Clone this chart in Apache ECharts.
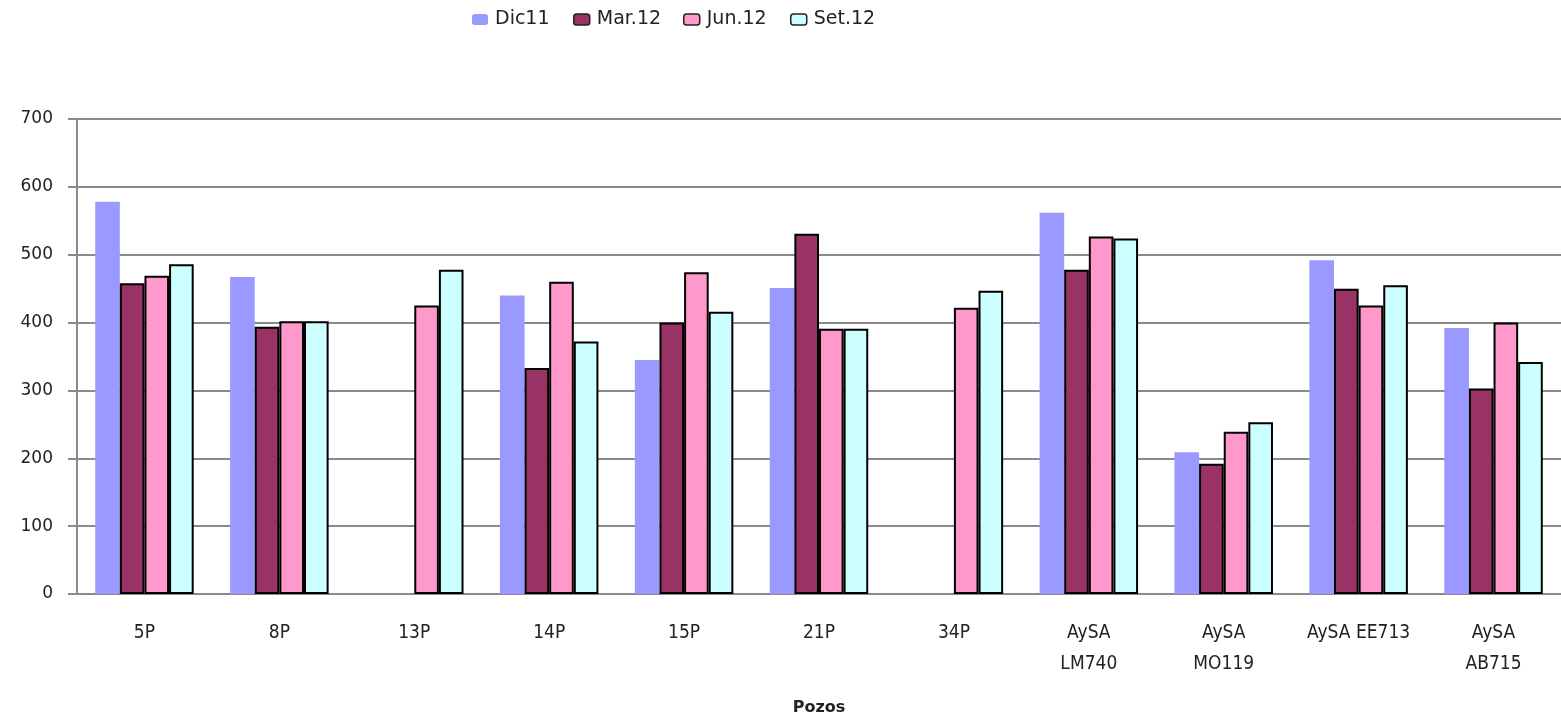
<!DOCTYPE html>
<html>
<head>
<meta charset="utf-8">
<script src="https://cdn.jsdelivr.net/npm/echarts@6/dist/echarts.min.js"></script>
<style>
  html, body { margin: 0; padding: 0; background: #fff; }
  #chart { width: 1561px; height: 719px; }
</style>
</head>
<body>
<div id="chart"></div>
<script>
// Wells (x categories)
const pozos = ['5P', '8P', '13P', '14P', '15P', '21P', '34P', 'AySA\nLM740', 'AySA\nMO119', 'AySA EE713', 'AySA\nAB715'];

// Measurement periods
const periodos = ['Dic11', 'Mar.12', 'Jun.12', 'Set.12'];

// Measurements per period (null = no reading)
const dic11 = [578, 467, null, 440, 345, 451, null, 562, 209, 492, 392];
const mar12 = [458, 394, null, 333, 400, 531, null, 478, 192, 450, 303];
const jun12 = [469, 402, 425, 460, 474, 391, 422, 527, 239, 425, 400];
const set12 = [486, 402, 478, 372, 416, 391, 447, 524, 253, 455, 342];

// Y axis range
const yMin = 0, yMax = 700, yStep = 100;

const fontFam = 'DejaVu Sans, Verdana, sans-serif';
const narrowFam = '"Liberation Sans Narrow", "Arial Narrow", "DejaVu Sans Condensed", sans-serif';

const colors = ['#9999FF', '#993366', '#FF99CC', '#CCFFFF'];
const bordered = [false, true, true, true];
const values = [dic11, mar12, jun12, set12];

// One legend block per period, laid out left to right across the top
const legendLeft = [472, 573, 683, 790];
const legends = periodos.map((p, i) => ({
  top: 10,
  left: legendLeft[i],
  itemWidth: 16,
  itemHeight: 11,
  padding: 0,
  textStyle: { fontFamily: fontFam, fontSize: 19, color: '#222', padding: [0, 0, 0, 2] },
  data: [{
    name: p,
    itemStyle: bordered[i] ? { borderColor: '#222', borderWidth: 1.5 } : { borderWidth: 0 }
  }]
}));

const series = periodos.map((p, i) => ({
  name: p,
  type: 'bar',
  data: values[i],
  barGap: '0%',
  barCategoryGap: '27%',
  itemStyle: {
    color: colors[i],
    borderColor: bordered[i] ? '#000' : colors[i],
    borderWidth: bordered[i] ? 2 : 0
  }
}));

const chart = echarts.init(document.getElementById('chart'), null, { renderer: 'canvas' });
chart.setOption({
  animation: false,
  backgroundColor: '#fff',
  legend: legends,
  grid: { left: 77, right: 0, top: 119, bottom: 125, containLabel: false, outerBoundsMode: 'none' },
  xAxis: {
    type: 'category',
    data: pozos,
    name: 'Pozos',
    nameLocation: 'middle',
    nameGap: 106,
    nameTextStyle: { fontFamily: fontFam, fontSize: 16, fontWeight: 'bold', color: '#222' },
    axisLine: { lineStyle: { color: '#8a8a8a', width: 2 } },
    axisTick: { show: false },
    axisLabel: {
      fontFamily: narrowFam, fontSize: 19, color: '#222',
      margin: 24, lineHeight: 31, interval: 0
    },
    splitLine: { show: false }
  },
  yAxis: {
    type: 'value',
    min: yMin, max: yMax, interval: yStep,
    axisLine: { show: true, lineStyle: { color: '#8a8a8a', width: 2 } },
    axisTick: { show: true, length: 9, lineStyle: { color: '#8a8a8a', width: 2 } },
    axisLabel: { fontFamily: fontFam, fontSize: 17, color: '#222', margin: 24 },
    splitLine: { show: true, lineStyle: { color: '#8a8a8a', width: 2 } }
  },
  series: series
});
</script>
</body>
</html>
